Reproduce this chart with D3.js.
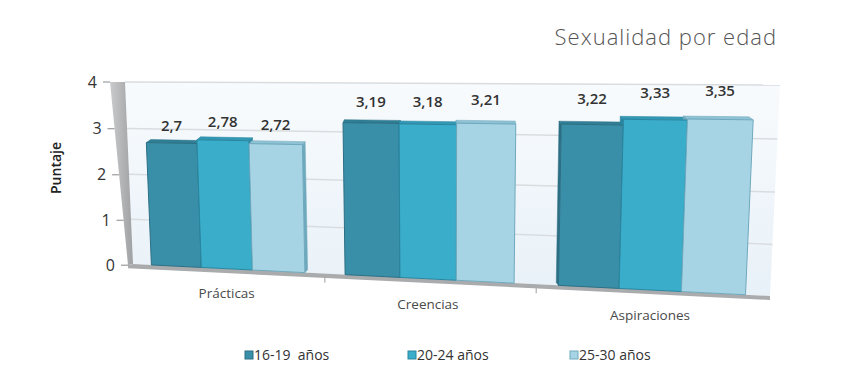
<!DOCTYPE html>
<html>
<head>
<meta charset="utf-8">
<script src="https://cdn.jsdelivr.net/npm/d3@7"></script>
<style>
  body { margin: 0; background: #fff; }
  svg { display: block; font-family: "Open Sans", Lato, sans-serif; }
</style>
</head>
<body>
<svg id="chart" width="854" height="390"></svg>
<script>
// data
var categories = ["Prácticas", "Creencias", "Aspiraciones"];
var seriesNames = ["16-19  años", "20-24 años", "25-30 años"];
var serie1619 = [2.7, 3.19, 3.22];
var serie2024 = [2.78, 3.18, 3.33];
var serie2530 = [2.72, 3.21, 3.35];
var yTicks = [0, 1, 2, 3, 4];
var title = "Sexualidad por edad";
var yTitle = "Puntaje";

var series = [serie1619, serie2024, serie2530];
var colors = ["#3a8fa8", "#3aadcb", "#a7d4e4"];
var sideColors = ["#2c6f84", "#2a86a0", "#6fa9bd"];
var topColors = ["#2f7f96", "#3298b4", "#8fc2d4"];

var svg = d3.select("#chart");

// perspective: wall plane corners (bottom-left, bottom-right, top-right, top-left)
function quadMap(q) {
    var x0 = q[0][0], y0 = q[0][1], x1 = q[1][0], y1 = q[1][1];
    var x2 = q[2][0], y2 = q[2][1], x3 = q[3][0], y3 = q[3][1];
    var dx1 = x1 - x2, dx2 = x3 - x2, dx3 = x0 - x1 + x2 - x3;
    var dy1 = y1 - y2, dy2 = y3 - y2, dy3 = y0 - y1 + y2 - y3;
    var den = dx1 * dy2 - dx2 * dy1;
    var g = (dx3 * dy2 - dx2 * dy3) / den;
    var h = (dx1 * dy3 - dx3 * dy1) / den;
    var a = x1 - x0 + g * x1, b = x3 - x0 + h * x3;
    var d = y1 - y0 + g * y1, e = y3 - y0 + h * y3;
    return function(u, v) {
        var w = g * u + h * v + 1;
        return [(a * u + b * v + x0) / w, (d * u + e * v + y0) / w];
    };
}
var proj = quadMap([[133, 264], [770, 296], [780, 85], [125, 82]]);

var x = d3.scaleBand().domain(categories).range([0, 1])
    .paddingInner(0.2).paddingOuter(0.1);
var xs = d3.scaleBand().domain(d3.range(series.length)).range([0, x.bandwidth()]);
var y = d3.scaleLinear().domain([0, 4]).range([0, 1]);

function P(u, val) { return proj(u, y(val)); }
function add(p, dx, dy) { return [p[0] + dx, p[1] + dy]; }
function pts(arr) { return arr.map(function(p) { return p.join(","); }).join(" "); }

// gradients
var defs = svg.append("defs");
var wg = defs.append("linearGradient").attr("id", "wallGrad")
    .attr("x1", 0).attr("y1", 0).attr("x2", 0).attr("y2", 1);
wg.append("stop").attr("offset", "0%").attr("stop-color", "#f8fbfd");
wg.append("stop").attr("offset", "100%").attr("stop-color", "#e8f1f8");
var sg = defs.append("linearGradient").attr("id", "sideGrad")
    .attr("x1", 0).attr("y1", 0).attr("x2", 1).attr("y2", 0);
sg.append("stop").attr("offset", "0%").attr("stop-color", "#c9cbcd");
sg.append("stop").attr("offset", "100%").attr("stop-color", "#9ea0a2");

// back wall
svg.append("polygon")
    .attr("points", pts([P(0, 0), P(1, 0), P(1, 4), P(0, 4)]))
    .attr("fill", "url(#wallGrad)");

// gridlines
svg.append("g").selectAll("line").data(yTicks.slice(1)).enter().append("line")
    .attr("x1", function(t) { return P(0, t)[0]; })
    .attr("y1", function(t) { return P(0, t)[1]; })
    .attr("x2", function(t) { return P(1, t)[0]; })
    .attr("y2", function(t) { return P(1, t)[1]; })
    .attr("stroke", "#d9dde0").attr("stroke-width", 1.5);

// left side wall
function outer(t) { return add(P(0, t), -5 - 2.5 * t, 0.3 * (4 - t)); }
svg.append("polygon")
    .attr("points", pts([P(0, 4), P(0, 0), outer(0), outer(4)]))
    .attr("fill", "url(#sideGrad)");

// floor
svg.append("polygon")
    .attr("points", pts([outer(0), P(0, 0), P(1, 0), add(P(1, 0), 0, 4), add(outer(0), 0, 3)]))
    .attr("fill", "#a9abad");

// y ticks and labels
var yAxis = svg.append("g");
yAxis.selectAll("line").data(yTicks).enter().append("line")
    .attr("x1", function(t) { return outer(t)[0] - 7; })
    .attr("x2", function(t) { return outer(t)[0]; })
    .attr("y1", function(t) { return outer(t)[1]; })
    .attr("y2", function(t) { return outer(t)[1]; })
    .attr("stroke", "#9a9c9e").attr("stroke-width", 1.2);
yAxis.selectAll("text").data(yTicks).enter().append("text")
    .attr("x", function(t) { return outer(t)[0] - 13; })
    .attr("y", function(t) { return outer(t)[1]; })
    .attr("dy", "0.35em")
    .attr("text-anchor", "end")
    .attr("font-size", 16).attr("fill", "#333")
    .text(function(t) { return t; });

svg.append("text")
    .attr("transform", "translate(61,168) rotate(-90)")
    .attr("text-anchor", "middle")
    .attr("font-size", 14).attr("font-weight", 600).attr("fill", "#222")
    .text(yTitle);

// category ticks and labels
var step = x.step();
var bounds = categories.slice(0, -1).map(function(c) {
    return x(c) + x.bandwidth() + step * x.paddingInner() / 2;
});
svg.append("g").selectAll("line").data(bounds).enter().append("line")
    .attr("x1", function(u) { return P(u, 0)[0]; })
    .attr("x2", function(u) { return P(u, 0)[0]; })
    .attr("y1", function(u) { return P(u, 0)[1] + 4; })
    .attr("y2", function(u) { return P(u, 0)[1] + 9; })
    .attr("stroke", "#9a9c9e");
svg.append("g").selectAll("text").data(categories).enter().append("text")
    .attr("x", function(c) { return P(x(c) + x.bandwidth() / 2, 0)[0]; })
    .attr("y", function(c) { return P(x(c) + x.bandwidth() / 2, 0)[1] + 25; })
    .attr("dy", "0.35em")
    .attr("text-anchor", "middle")
    .attr("font-size", 13.5).attr("fill", "#4a4a4a")
    .text(function(c) { return c; });

// bars
var bars = [];
categories.forEach(function(c, i) {
    series.forEach(function(s, k) {
        var u0 = x(c) + xs(k), u1 = u0 + xs.bandwidth();
        bars.push({ k: k, v: s[i], u0: u0, u1: u1,
            fbl: P(u0, 0), fbr: P(u1, 0), ftr: P(u1, s[i]), ftl: P(u0, s[i]) });
    });
});
function depth(b) {
    var cx = (b.fbl[0] + b.fbr[0]) / 2;
    return [(450 - cx) * 0.016, -3];
}
var backG = svg.append("g"), frontG = svg.append("g");
bars.forEach(function(b) {
    var o = depth(b);
    var side = o[0] > 0
        ? [b.ftr, b.fbr, add(b.fbr, o[0], o[1]), add(b.ftr, o[0], o[1])]
        : [b.ftl, b.fbl, add(b.fbl, o[0], o[1]), add(b.ftl, o[0], o[1])];
    backG.append("polygon").attr("points", pts(side))
        .attr("fill", sideColors[b.k]).attr("stroke", sideColors[b.k]).attr("stroke-width", 0.5);
    backG.append("polygon")
        .attr("points", pts([b.ftl, b.ftr, add(b.ftr, o[0], o[1]), add(b.ftl, o[0], o[1])]))
        .attr("fill", topColors[b.k]).attr("stroke", sideColors[b.k]).attr("stroke-width", 0.5);
});
frontG.selectAll("polygon").data(bars).enter().append("polygon")
    .attr("points", function(b) { return pts([b.fbl, b.fbr, b.ftr, b.ftl]); })
    .attr("fill", function(b) { return colors[b.k]; })
    .attr("stroke", function(b) { return sideColors[b.k]; })
    .attr("stroke-width", 1);

// value labels
svg.append("g").selectAll("text").data(bars).enter().append("text")
    .attr("x", function(b) { return P((b.u0 + b.u1) / 2, b.v)[0]; })
    .attr("y", function(b) { var uc = (b.u0 + b.u1) / 2; return P(uc, b.v + 0.35 + 0.2 * uc)[1]; })
    .attr("dy", "0.35em")
    .attr("text-anchor", "middle")
    .attr("font-size", 15).attr("font-weight", 600).attr("fill", "#333")
    .text(function(b) { return String(b.v).replace(".", ","); });

// title
svg.append("text")
    .attr("x", 777).attr("y", 45)
    .attr("text-anchor", "end")
    .attr("font-size", 22).attr("font-weight", 300).attr("fill", "#555")
    .attr("letter-spacing", 1)
    .text(title);

// legend
var legendX = [245, 408, 570];
var lg = svg.append("g").selectAll("g").data(seriesNames).enter().append("g")
    .attr("transform", function(d, i) { return "translate(" + legendX[i] + ",355)"; });
lg.append("rect").attr("x", 0).attr("y", -4).attr("width", 8).attr("height", 8)
    .attr("fill", function(d, i) { return colors[i]; })
    .attr("stroke", function(d, i) { return sideColors[i]; });
lg.append("text").attr("x", 9).attr("dy", "0.35em")
    .attr("font-size", 14).attr("fill", "#333")
    .style("white-space", "pre")
    .text(function(d) { return d; });
</script>
</body>
</html>
